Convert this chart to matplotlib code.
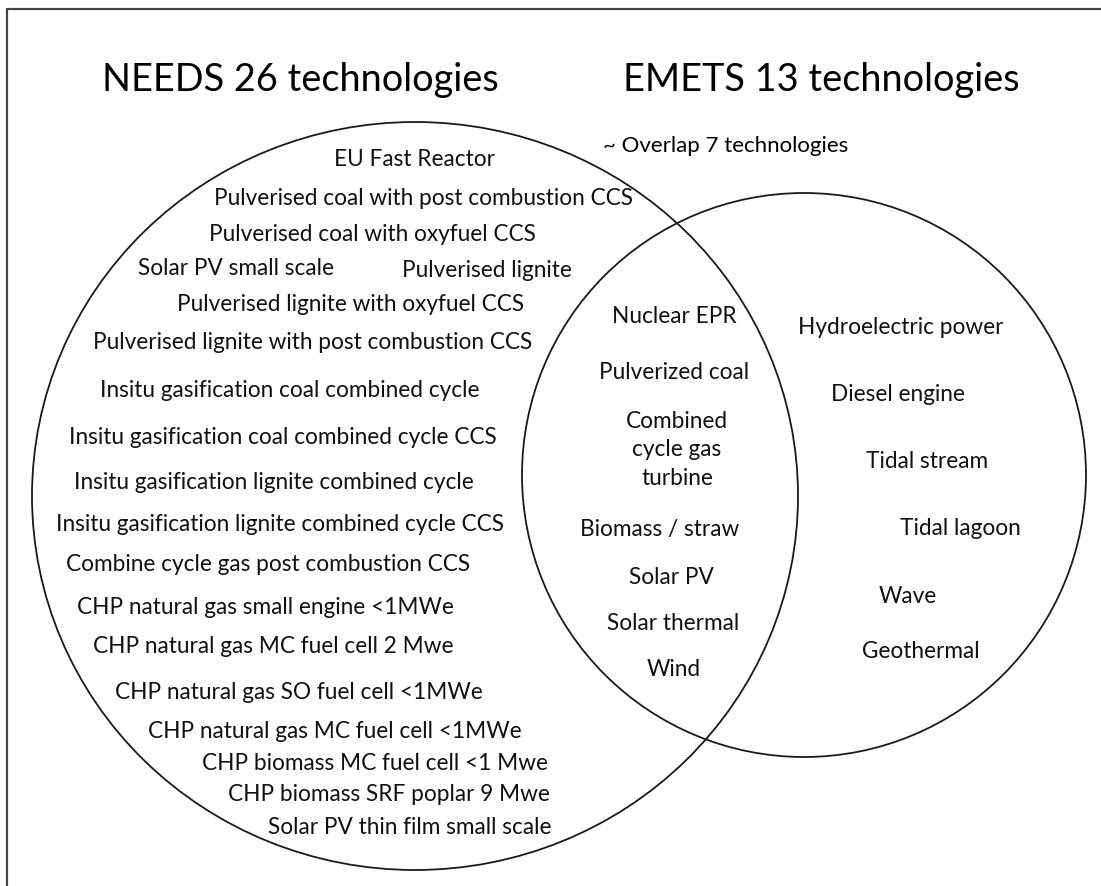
import matplotlib
matplotlib.use("Agg")
from matplotlib import pyplot as plt
from matplotlib.patches import Ellipse

plt.rcParams['font.family'] = ['Lato', 'DejaVu Sans']

# set titles
left_title = "NEEDS 26 technologies"
right_title = "EMETS 13 technologies"
overlap_note = "~ Overlap 7 technologies"

# NEEDS only
needs_only = [
    "EU Fast Reactor",
    "Pulverised coal with post combustion CCS",
    "Pulverised coal with oxyfuel CCS",
    "Solar PV small scale",
    "Pulverised lignite",
    "Pulverised lignite with oxyfuel CCS",
    "Pulverised lignite with post combustion CCS",
    "Insitu gasification coal combined cycle",
    "Insitu gasification coal combined cycle CCS",
    "Insitu gasification lignite combined cycle",
    "Insitu gasification lignite combined cycle CCS",
    "Combine cycle gas post combustion CCS",
    "CHP natural gas small engine <1MWe",
    "CHP natural gas MC fuel cell 2 Mwe",
    "CHP natural gas SO fuel cell <1MWe",
    "CHP natural gas MC fuel cell <1MWe",
    "CHP biomass MC fuel cell <1 Mwe",
    "CHP biomass SRF poplar 9 Mwe",
    "Solar PV thin film small scale",
]

# in both
both = [
    "Nuclear EPR",
    "Pulverized coal",
    "Combined\ncycle gas\nturbine",
    "Biomass / straw",
    "Solar PV",
    "Solar thermal",
    "Wind",
]

# EMETS only
emets_only = [
    "Hydroelectric power",
    "Diesel engine",
    "Tidal stream",
    "Tidal lagoon",
    "Wave",
    "Geothermal",
]

# layout (pixel coords, y down)
needs_pos = [(415, 160), (423, 199), (372, 235), (236, 269), (487, 271),
             (351, 305), (313, 343), (290, 391), (283, 438), (274, 483),
             (280, 525), (268, 565), (265, 608), (273, 647), (299, 693),
             (335, 732), (375, 764), (389, 795), (410, 828)]
both_pos = [(674, 317), (674, 373), (677, 450), (660, 530), (671, 578),
            (673, 624), (674, 670)]
emets_pos = [(901, 328), (898, 395), (927, 462), (960, 529), (908, 597),
             (921, 652)]

W, H = 1101, 887
fig = plt.figure(figsize=(W / 100, H / 100), dpi=100)
ax = fig.add_axes([0, 0, 1, 1])
ax.set_xlim(0, W)
ax.set_ylim(H, 0)
ax.axis('off')

# frame (only top and left visible)
ax.plot([7, 7, W + 5], [H + 5, 10, 10], color='#444444', lw=1.6, solid_capstyle='butt')

ax.add_patch(Ellipse((415, 497), 2 * 383, 2 * 374, fill=False, ec='#1a1a1a', lw=1.3))
ax.add_patch(Ellipse((804, 476), 2 * 282, 2 * 282, fill=False, ec='#1a1a1a', lw=1.3))

fs = 16.3
ax.text(300, 80, left_title, fontsize=27.3, ha='center', va='center', color='black')
ax.text(821, 80, right_title, fontsize=27.3, ha='center', va='center', color='black')
ax.text(726, 146, overlap_note, fontsize=16, ha='center', va='center', color='black')

for lab, (x, y) in zip(needs_only, needs_pos):
    ax.text(x, y, lab, fontsize=fs, ha='center', va='center', color='#111111')
for lab, (x, y) in zip(both, both_pos):
    ax.text(x, y, lab, fontsize=fs, ha='center', va='center', color='#111111',
            linespacing=1.47)
for lab, (x, y) in zip(emets_only, emets_pos):
    ax.text(x, y, lab, fontsize=fs, ha='center', va='center', color='#111111')

fig.savefig("out.png", dpi=100)
